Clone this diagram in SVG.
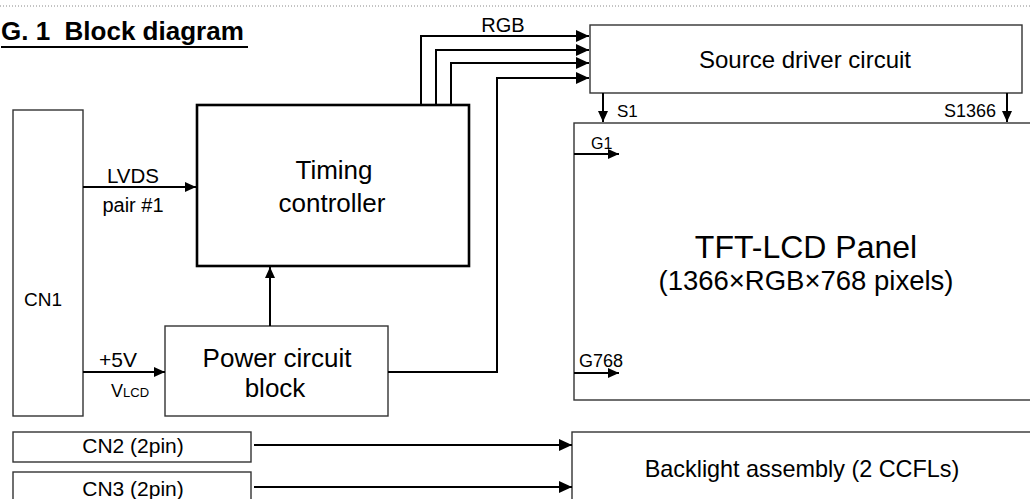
<svg xmlns="http://www.w3.org/2000/svg" width="1030" height="499" viewBox="0 0 1030 499">
<style>
text{font-family:"Liberation Sans",Arial,sans-serif;fill:#000}
.box{fill:#fff;stroke:#333;stroke-width:1.4}
.thick{fill:#fff;stroke:#000;stroke-width:2.6}
.c{fill:none;stroke:#000;stroke-width:2}
.m{text-anchor:middle}
</style>
<defs>
<marker id="ah" markerUnits="userSpaceOnUse" markerWidth="14" markerHeight="12" refX="13" refY="6" orient="auto">
<path d="M0,0 L13,6 L0,12 Z" fill="#000"/>
</marker>
<marker id="ahs" markerUnits="userSpaceOnUse" markerWidth="12" markerHeight="10" refX="11" refY="5" orient="auto">
<path d="M0,0 L11,5 L0,10 Z" fill="#000"/>
</marker>
</defs>
<rect width="1030" height="499" fill="#fff"/>
<line x1="0" y1="6" x2="1030" y2="6" stroke="#888" stroke-width="1" stroke-dasharray="1,2"/>
<g id="title">
<text x="1" y="40" font-size="26" font-weight="bold" xml:space="preserve">G. 1  Block diagram</text>
<line x1="1" y1="47" x2="248" y2="47" stroke="#000" stroke-width="1.8"/>
</g>
<g id="cn1"><rect class="box" x="13" y="110" width="70" height="306"/><text class="m" x="43" y="306" font-size="19">CN1</text></g>
<g id="timing"><rect class="thick" x="197" y="105" width="272" height="161"/><text class="m" x="334" y="179" font-size="26">Timing</text><text class="m" x="332" y="212" font-size="26">controller</text></g>
<g id="power"><rect class="box" x="165" y="326" width="223" height="90"/><text class="m" x="277" y="367" font-size="26">Power circuit</text><text class="m" x="275" y="397" font-size="26">block</text></g>
<g id="source"><rect class="box" x="590" y="25" width="432" height="68"/><text class="m" x="805" y="68" font-size="24">Source driver circuit</text></g>
<g id="panel"><rect class="box" x="574" y="123" width="470" height="277"/><text class="m" x="806" y="258" font-size="32">TFT-LCD Panel</text><text class="m" x="806" y="290" font-size="27.5">(1366×RGB×768 pixels)</text></g>
<g id="cn2"><rect class="box" x="13" y="432" width="238" height="30"/><text class="m" x="133" y="453" font-size="21">CN2 (2pin)</text></g>
<g id="cn3"><rect class="box" x="13" y="472" width="238" height="40"/><text class="m" x="133" y="496" font-size="21">CN3 (2pin)</text></g>
<g id="backlight"><rect class="box" x="572" y="432" width="472" height="80"/><text class="m" x="802" y="477" font-size="23.4">Backlight assembly (2 CCFLs)</text></g>
<g id="connectors">
<polyline class="c" points="421,105 421,36 589,36" marker-end="url(#ah)"/>
<polyline class="c" points="436,105 436,50 589,50" marker-end="url(#ah)"/>
<polyline class="c" points="451,105 451,63 589,63" marker-end="url(#ah)"/>
<polyline class="c" points="388,372 497,372 497,78 589,78" marker-end="url(#ah)"/>
<line class="c" x1="603" y1="93" x2="603" y2="122" marker-end="url(#ahs)"/>
<line class="c" x1="1007" y1="93" x2="1007" y2="122" marker-end="url(#ahs)"/>
<line class="c" x1="574" y1="154" x2="619" y2="154" marker-end="url(#ahs)"/>
<line class="c" x1="574" y1="373" x2="619" y2="373" marker-end="url(#ahs)"/>
<line class="c" x1="83" y1="187" x2="196" y2="187" marker-end="url(#ahs)"/>
<line class="c" x1="83" y1="372" x2="165" y2="372" marker-end="url(#ahs)"/>
<line class="c" x1="270" y1="326" x2="270" y2="267" marker-end="url(#ahs)"/>
<line class="c" x1="254" y1="445" x2="572" y2="445" marker-end="url(#ah)"/>
<line class="c" x1="254" y1="487" x2="572" y2="487" marker-end="url(#ah)"/>
</g>
<g id="labels">
<text class="m" x="503" y="32" font-size="20">RGB</text>
<text x="617" y="117" font-size="17">S1</text>
<text x="996" y="117" font-size="18" text-anchor="end">S1366</text>
<text x="591" y="149" font-size="16">G1</text>
<text x="579" y="367" font-size="18">G768</text>
<text class="m" x="133" y="183" font-size="20.5">LVDS</text>
<text class="m" x="133" y="212" font-size="20">pair #1</text>
<text class="m" x="118" y="367" font-size="21">+5V</text>
<text x="111" y="397" font-size="18">V<tspan font-size="13">LCD</tspan></text>
</g>
</svg>
